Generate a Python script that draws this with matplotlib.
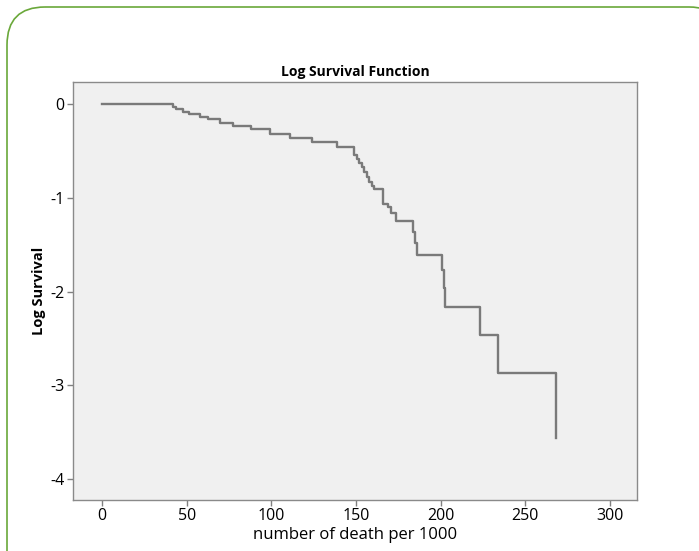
import matplotlib
matplotlib.use('Agg')
import matplotlib.pyplot as plt
from matplotlib.patches import FancyBboxPatch

# step times (number of death per 1000) and log survival after each step
times = [0, 41.7, 44, 48, 51.5, 57.8, 62.7, 69.7, 77.5, 87.8, 99.2, 111, 123.8,
         138.5, 148.8, 150.5, 152.0, 153.5, 154.8, 156.3, 157.8, 159.5, 160.5,
         166, 169, 170.6, 173.6, 183.8, 184.8, 186.3, 200.7, 201.9, 202.5,
         223.1, 234, 267.8]
logsurv = [0, -0.028, -0.053, -0.08, -0.107, -0.14, -0.165, -0.198, -0.235,
           -0.27, -0.315, -0.36, -0.405, -0.455, -0.545, -0.59, -0.63, -0.67,
           -0.72, -0.775, -0.835, -0.87, -0.905, -1.065, -1.095, -1.16, -1.245,
           -1.36, -1.48, -1.61, -1.77, -1.96, -2.17, -2.465, -2.873, -3.566]

xticks = [0, 50, 100, 150, 200, 250, 300]
yticks = [0, -1, -2, -3, -4]

plt.rcParams['font.family'] = ['Open Sans', 'DejaVu Sans']

W, H = 699, 551
fig = plt.figure(figsize=(W / 100, H / 100), dpi=100)

# green rounded frame around the chart
bg = fig.add_axes([0, 0, 1, 1])
bg.set_xlim(0, W)
bg.set_ylim(H, 0)
bg.axis('off')
bg.add_patch(FancyBboxPatch((7, 7), 720, 620, boxstyle='round,pad=0,rounding_size=38',
                            fill=False, ec='#6aa83a', lw=1.2))

ax = fig.add_axes([73 / W, 1 - 500 / H, (637 - 73) / W, (500 - 82) / H])
ax.set_facecolor('#f0f0f0')
ax.step(times, logsurv, where='post', color='#7a7a7a', lw=1.7)

ax.set_xlim(-17.1, 315.9)
ax.set_ylim(-4.224, 0.235)
ax.set_xticks(xticks)
ax.set_yticks(yticks)
ax.set_yticklabels([str(v) for v in yticks])
ax.tick_params(length=4, width=1, color='#808080', labelsize=11.5, pad=2)
for s in ax.spines.values():
    s.set_color('#8a8a8a')
    s.set_linewidth(1)

ax.set_title('Log Survival Function', fontsize=10, fontweight='bold', pad=4)
ax.set_xlabel('number of death per 1000', fontsize=12, labelpad=2)
ax.set_ylabel('Log Survival', fontsize=10.5, fontweight='bold', labelpad=3)

fig.savefig('out.png', dpi=100)
